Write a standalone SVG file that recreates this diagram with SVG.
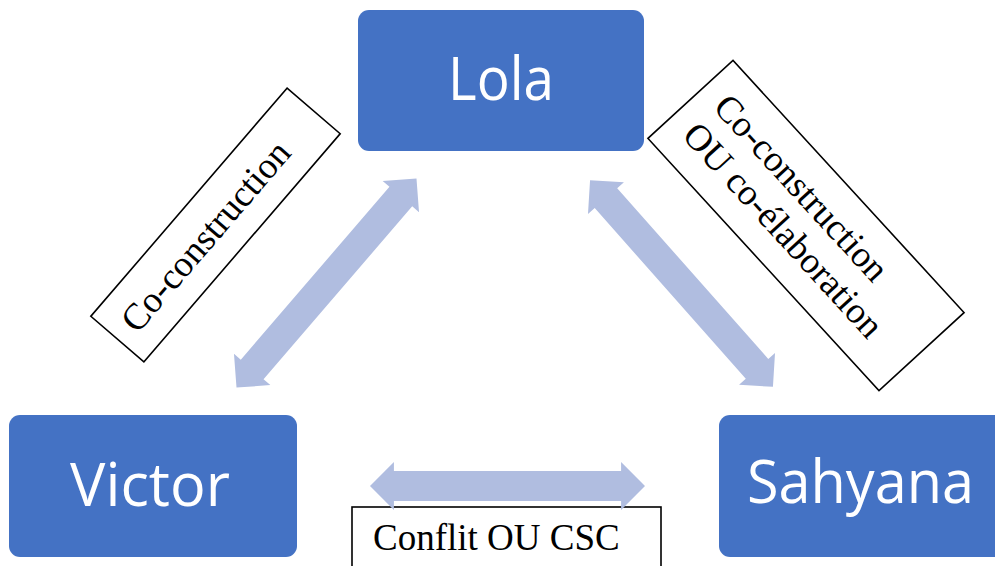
<svg xmlns="http://www.w3.org/2000/svg" xmlns:xlink="http://www.w3.org/1999/xlink" width="995" height="566" viewBox="0 0 995 566">
<style>
.node{fill:#4472C4;}
.ntext{font-family:"Open Sans","Noto Sans",sans-serif;font-size:60px;fill:#FFFFFF;text-anchor:middle;}
.lbox{fill:#FFFFFF;stroke:#000000;stroke-width:1.6;}
.ltext{font-family:"Liberation Serif","Times New Roman",serif;font-size:37px;fill:#000000;}
.arr{fill:#B0BDE0;}
</style>
<defs>
<polygon id="dbl" points="-138,0 -114,-24 -114,-15 114,-15 114,-24 138,0 114,24 114,15 -114,15 -114,24"/>
</defs>
<rect width="995" height="566" fill="#FFFFFF"/>
<g id="lola">
<rect class="node" x="358" y="10" width="286" height="141" rx="11"/>
<text class="ntext" x="501" y="100" textLength="106" lengthAdjust="spacingAndGlyphs">Lola</text>
</g>
<g id="victor">
<rect class="node" x="9" y="415" width="288" height="142" rx="11"/>
<text class="ntext" x="150" y="506" textLength="160" lengthAdjust="spacingAndGlyphs">Victor</text>
</g>
<g id="sahyana">
<rect class="node" x="719" y="415" width="288" height="142" rx="11"/>
<text class="ntext" x="860.5" y="503" textLength="227" lengthAdjust="spacingAndGlyphs">Sahyana</text>
</g>
<g id="label-left" transform="translate(215.5,225) rotate(-49.3)">
<rect class="lbox" x="-150.5" y="-35" width="301" height="70"/>
<text class="ltext" x="-134" y="12">Co-construction</text>
</g>
<g id="label-right" transform="translate(806,225.5) rotate(47.5)">
<rect class="lbox" x="-171" y="-57.7" width="342" height="115.4"/>
<text class="ltext" x="-150" y="-10">Co-construction</text>
<text class="ltext" x="-150" y="32">OU co-élaboration</text>
</g>
<g id="label-bottom">
<rect class="lbox" x="352" y="507" width="309" height="80"/>
<text class="ltext" x="373" y="550">Conflit OU CSC</text>
</g>
<g id="connectors">
<use xlink:href="#dbl" class="arr" transform="translate(326.5,283) rotate(-49.3)"/>
<use xlink:href="#dbl" class="arr" transform="translate(681.5,283.5) rotate(48.5)"/>
<use xlink:href="#dbl" class="arr" transform="translate(507.5,486) scale(0.9964,1)"/>
</g>
</svg>
